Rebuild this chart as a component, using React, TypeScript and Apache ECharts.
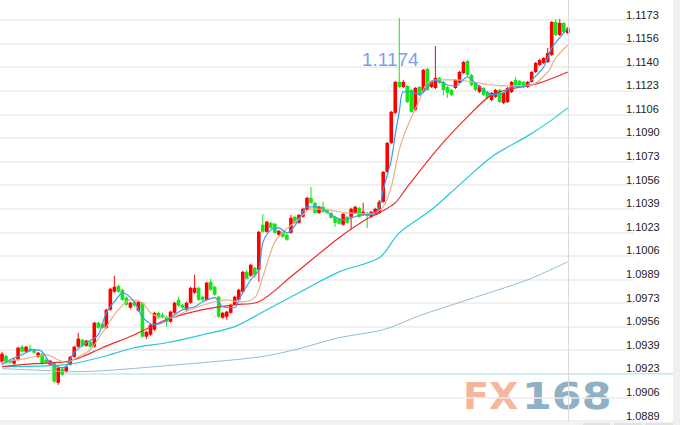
import React, { useEffect, useRef } from "react";
import * as echarts from "echarts";

// Candles: [open, close, low, high]
const candles: number[][] = [
  [1.09312, 1.09369, 1.09298, 1.09383],
  [1.09354, 1.09305, 1.09298, 1.09362],
  [1.09319, 1.09305, 1.09298, 1.09326],
  [1.09298, 1.09326, 1.09291, 1.0934],
  [1.09326, 1.09411, 1.09319, 1.09418],
  [1.09418, 1.09383, 1.09376, 1.09432],
  [1.09383, 1.09418, 1.09376, 1.09425],
  [1.09404, 1.0939, 1.09383, 1.09432],
  [1.09397, 1.09376, 1.09369, 1.09404],
  [1.09347, 1.09376, 1.0934, 1.09383],
  [1.09369, 1.09298, 1.09291, 1.09376],
  [1.09326, 1.09305, 1.09298, 1.0934],
  [1.09291, 1.09319, 1.09284, 1.09326],
  [1.09305, 1.09171, 1.09163, 1.09312],
  [1.09163, 1.0927, 1.09149, 1.09277],
  [1.09263, 1.0922, 1.09213, 1.0927],
  [1.09241, 1.09277, 1.09234, 1.09284],
  [1.09291, 1.09347, 1.09284, 1.09354],
  [1.09347, 1.09418, 1.0934, 1.09425],
  [1.09418, 1.09475, 1.09411, 1.09517],
  [1.09468, 1.09425, 1.09418, 1.09475],
  [1.09425, 1.09461, 1.09418, 1.09468],
  [1.09453, 1.09418, 1.09411, 1.09461],
  [1.09418, 1.09588, 1.09411, 1.09595],
  [1.09588, 1.09552, 1.09545, 1.09595],
  [1.09581, 1.09552, 1.09545, 1.09588],
  [1.09552, 1.0968, 1.09545, 1.09687],
  [1.0968, 1.09828, 1.09673, 1.09835],
  [1.09807, 1.09842, 1.098, 1.0992],
  [1.09849, 1.09807, 1.098, 1.09856],
  [1.09821, 1.0975, 1.09743, 1.09828],
  [1.09765, 1.09715, 1.09708, 1.09772],
  [1.09694, 1.09729, 1.09687, 1.09736],
  [1.09736, 1.09708, 1.09701, 1.09743],
  [1.09673, 1.09736, 1.09666, 1.09743],
  [1.09729, 1.09489, 1.09482, 1.09736],
  [1.09489, 1.09524, 1.09475, 1.09531],
  [1.09503, 1.09574, 1.09496, 1.09581],
  [1.09538, 1.09658, 1.09531, 1.09666],
  [1.09658, 1.09623, 1.09616, 1.09666],
  [1.09644, 1.0963, 1.09623, 1.09658],
  [1.0963, 1.09595, 1.0956, 1.09637],
  [1.09595, 1.09666, 1.09588, 1.09673],
  [1.09658, 1.09729, 1.09651, 1.09736],
  [1.0975, 1.09708, 1.09701, 1.09772],
  [1.09715, 1.09694, 1.09687, 1.09722],
  [1.0968, 1.09729, 1.09673, 1.09736],
  [1.09729, 1.09835, 1.09722, 1.09842],
  [1.098, 1.09835, 1.09793, 1.09927],
  [1.09835, 1.0975, 1.09743, 1.09842],
  [1.09772, 1.0975, 1.09743, 1.09779],
  [1.0975, 1.09871, 1.09743, 1.09878],
  [1.09878, 1.09821, 1.09814, 1.09899],
  [1.09842, 1.09786, 1.09779, 1.09849],
  [1.09772, 1.0963, 1.09623, 1.09779],
  [1.09623, 1.09658, 1.09616, 1.09666],
  [1.0963, 1.09666, 1.09609, 1.09673],
  [1.09658, 1.09715, 1.09651, 1.09722],
  [1.09715, 1.09772, 1.09708, 1.09779],
  [1.0975, 1.09821, 1.09743, 1.09828],
  [1.09807, 1.09948, 1.098, 1.09955],
  [1.09948, 1.09899, 1.09892, 1.09963],
  [1.0992, 1.09998, 1.09913, 1.10005],
  [1.09977, 1.09927, 1.09906, 1.09984],
  [1.09963, 1.10231, 1.09878, 1.10238],
  [1.10281, 1.10231, 1.10224, 1.10358],
  [1.10231, 1.10302, 1.10224, 1.10309],
  [1.10295, 1.10259, 1.10252, 1.10302],
  [1.10288, 1.10224, 1.10217, 1.10295],
  [1.1021, 1.10238, 1.10203, 1.10245],
  [1.10231, 1.10196, 1.10189, 1.10238],
  [1.1021, 1.10175, 1.10168, 1.10217],
  [1.10224, 1.1033, 1.10217, 1.10351],
  [1.10337, 1.10295, 1.10288, 1.10344],
  [1.10295, 1.10351, 1.10288, 1.10358],
  [1.10337, 1.10394, 1.1033, 1.10401],
  [1.10387, 1.10472, 1.1038, 1.10479],
  [1.10472, 1.10436, 1.10429, 1.10549],
  [1.10436, 1.10365, 1.10358, 1.10443],
  [1.10365, 1.10408, 1.10358, 1.10415],
  [1.10408, 1.10373, 1.10365, 1.10443],
  [1.10387, 1.10365, 1.10358, 1.10394],
  [1.10365, 1.1033, 1.10323, 1.10373],
  [1.10337, 1.10295, 1.10267, 1.10344],
  [1.10323, 1.10288, 1.10281, 1.1033],
  [1.10281, 1.10358, 1.10274, 1.10365],
  [1.10337, 1.10295, 1.10288, 1.10344],
  [1.10337, 1.10394, 1.10245, 1.10401],
  [1.10365, 1.10408, 1.10358, 1.10415],
  [1.10401, 1.10337, 1.1033, 1.10408],
  [1.10351, 1.10373, 1.10344, 1.10436],
  [1.10365, 1.10344, 1.10259, 1.10373],
  [1.10337, 1.10373, 1.1033, 1.1038],
  [1.10358, 1.10394, 1.10351, 1.10401],
  [1.10365, 1.10443, 1.10358, 1.10457],
  [1.10443, 1.10655, 1.10436, 1.10662],
  [1.10655, 1.1086, 1.10648, 1.10867],
  [1.1086, 1.1108, 1.10853, 1.11087],
  [1.11073, 1.11292, 1.11065, 1.11299],
  [1.11292, 1.11256, 1.11249, 1.11744],
  [1.11256, 1.11292, 1.11249, 1.11306],
  [1.11263, 1.1115, 1.11143, 1.1127],
  [1.11235, 1.1108, 1.11073, 1.11242],
  [1.11094, 1.11249, 1.11087, 1.11256],
  [1.11256, 1.112, 1.11193, 1.11263],
  [1.11221, 1.11377, 1.11214, 1.11384],
  [1.11384, 1.11235, 1.11228, 1.11391],
  [1.11256, 1.11292, 1.11249, 1.11299],
  [1.11249, 1.1132, 1.11242, 1.11546],
  [1.1132, 1.11285, 1.11278, 1.11327],
  [1.11292, 1.11235, 1.112, 1.11299],
  [1.11256, 1.11214, 1.11179, 1.11263],
  [1.11235, 1.112, 1.11193, 1.11242],
  [1.11249, 1.11306, 1.11242, 1.11313],
  [1.11285, 1.11362, 1.11278, 1.11369],
  [1.11355, 1.11433, 1.11348, 1.1144],
  [1.1144, 1.11341, 1.11334, 1.11447],
  [1.11341, 1.1127, 1.11263, 1.11348],
  [1.11285, 1.11235, 1.11228, 1.11292],
  [1.11221, 1.11263, 1.11214, 1.1127],
  [1.11249, 1.112, 1.11193, 1.11256],
  [1.11221, 1.11179, 1.11171, 1.11228],
  [1.11164, 1.11214, 1.11157, 1.11221],
  [1.11186, 1.11235, 1.11179, 1.11242],
  [1.11235, 1.1115, 1.11143, 1.11242],
  [1.11143, 1.11214, 1.11136, 1.11221],
  [1.1115, 1.11249, 1.11143, 1.11256],
  [1.11221, 1.11292, 1.11214, 1.11299],
  [1.11306, 1.1127, 1.11263, 1.11327],
  [1.11299, 1.1127, 1.11263, 1.11306],
  [1.11292, 1.11256, 1.11249, 1.11299],
  [1.11256, 1.11292, 1.11249, 1.11299],
  [1.11292, 1.11362, 1.11285, 1.11369],
  [1.11362, 1.11426, 1.11355, 1.11433],
  [1.11412, 1.11447, 1.11405, 1.11454],
  [1.11426, 1.11461, 1.11419, 1.11468],
  [1.11433, 1.11497, 1.11426, 1.11532],
  [1.11483, 1.11716, 1.11476, 1.11723],
  [1.11716, 1.11624, 1.11617, 1.11737],
  [1.11624, 1.11709, 1.11617, 1.11737],
  [1.11709, 1.11645, 1.11638, 1.11716],
  [1.11638, 1.11673, 1.11631, 1.11681],
];

// Moving averages: [candle index, value]
const maBlue: number[][] = [
  [0, 1.09291], [2, 1.09326], [5, 1.09362], [8, 1.09397], [10, 1.09383], [12, 1.09305],
  [15, 1.0927], [16, 1.09277], [18, 1.09376], [21, 1.09446], [24, 1.09503], [26, 1.09658],
  [29, 1.09772], [30, 1.098], [33, 1.09736], [35, 1.0963], [38, 1.09574], [40, 1.09588],
  [43, 1.09644], [45, 1.0968], [48, 1.09701], [50, 1.09736], [53, 1.09765], [55, 1.09701],
  [58, 1.09694], [59, 1.0975], [62, 1.09892], [64, 1.09963], [65, 1.10153], [67, 1.10245],
  [69, 1.10259], [71, 1.10224], [74, 1.10316], [76, 1.10408], [79, 1.10408], [82, 1.10351],
  [85, 1.10316], [87, 1.1033], [90, 1.10351], [92, 1.10351], [94, 1.10401], [95, 1.10528],
  [97, 1.1074], [98, 1.10917], [99, 1.1108], [100, 1.11221], [102, 1.11221], [104, 1.112],
  [106, 1.11256], [108, 1.11306], [111, 1.1127], [113, 1.11263], [116, 1.11327], [117, 1.11306],
  [120, 1.11235], [122, 1.112], [125, 1.11214], [127, 1.11256], [130, 1.11256], [132, 1.11306],
  [135, 1.11398], [137, 1.11532], [140, 1.11638], [141, 1.11673],
];
const maTan: number[][] = [
  [0, 1.09312], [4, 1.09326], [8, 1.09347], [11, 1.09362], [14, 1.09326], [16, 1.09305],
  [19, 1.09347], [22, 1.09397], [25, 1.09517], [29, 1.0968], [32, 1.0975], [35, 1.09729],
  [37, 1.09658], [40, 1.09623], [42, 1.09623], [45, 1.09658], [49, 1.09701], [53, 1.09736],
  [56, 1.0975], [59, 1.09736], [63, 1.09765], [65, 1.09913], [68, 1.1016], [71, 1.10252],
  [74, 1.10323], [77, 1.10394], [81, 1.10387], [86, 1.10365], [92, 1.10358], [95, 1.10408],
  [97, 1.10549], [99, 1.10811], [101, 1.10974], [104, 1.11164], [106, 1.11285], [109, 1.11306],
  [113, 1.11306], [117, 1.11292], [122, 1.1127], [128, 1.11263], [132, 1.1127], [136, 1.11362],
  [138, 1.11461], [141, 1.11553],
];
const maRed: number[][] = [
  [0, 1.09277], [8, 1.09298], [16, 1.09312], [20, 1.09347], [25, 1.09411], [33, 1.09503],
  [41, 1.09609], [50, 1.0968], [58, 1.09715], [64, 1.09736], [72, 1.09913], [84, 1.10189],
  [91, 1.10323], [94, 1.10365], [98, 1.10436], [101, 1.10549], [109, 1.10832], [116, 1.11044],
  [122, 1.112], [128, 1.11249], [134, 1.11285], [141, 1.11362],
];
const maCyan: number[][] = [
  [0, 1.09277], [16, 1.09291], [25, 1.09347], [33, 1.09411], [41, 1.09446], [50, 1.09503],
  [58, 1.0956], [66, 1.0968], [74, 1.098], [84, 1.09948], [94, 1.10047], [99, 1.10224],
  [107, 1.10387], [114, 1.10563], [122, 1.10761], [131, 1.1091], [136, 1.11002], [141, 1.11108],
];
const maSlate: number[][] = [
  [0, 1.09263], [12, 1.09248], [16, 1.09241], [25, 1.09248], [41, 1.09284], [58, 1.09326],
  [66, 1.09354], [74, 1.09404], [84, 1.09482], [95, 1.09538], [104, 1.09637], [116, 1.0975],
  [131, 1.09892], [141, 1.10019],
];

const yTickLabels = [
  "1.0889", "1.0906", "1.0923", "1.0939", "1.0956", "1.0973", "1.0989", "1.1006", "1.1023",
  "1.1039", "1.1056", "1.1073", "1.1090", "1.1106", "1.1123", "1.1140", "1.1156", "1.1173",
];
const AXIS_BASE = 1.088925;
const AXIS_STEP = 0.001669;
const AXIS_TOP = 1.118714;
const TOTAL_SLOTS = 158;
const HIGHLIGHT_TICK = 2; // 1.0923 line drawn in cyan

const UP = "#ff0000";
const DOWN = "#14e614";

export default function App() {
  const ref = useRef<HTMLDivElement>(null);
  useEffect(() => {
    if (!ref.current) return;
    const chart = echarts.init(ref.current, undefined, { renderer: "svg" });
    const t = (p: number) => (p - AXIS_BASE) / AXIS_STEP;
    const n = candles.length;
    let maxIdx = 0;
    candles.forEach((c, i) => {
      if (c[3] > candles[maxIdx][3]) maxIdx = i;
    });
    const cats = Array.from({ length: TOTAL_SLOTS }, (_, i) => (i < n ? String(i) : "s" + i));
    const gridColors = yTickLabels.map((_, i) => (i === HIGHLIGHT_TICK ? "#bfeaea" : "#ebebeb"));
    gridColors.push("rgba(0,0,0,0)");
    const font = "Liberation Sans, Arial, sans-serif";
    const line = (data: number[][], color: string, width: number, smooth: number) => ({
      type: "line",
      xAxisIndex: 1,
      yAxisIndex: 0,
      data: data.map(([k, p]) => [k, t(p)]),
      showSymbol: false,
      symbol: "none",
      smooth,
      silent: true,
      z: 4,
      lineStyle: { color, width },
    });
    const gridH = 421;
    const highlightY = gridH - (HIGHLIGHT_TICK / t(AXIS_TOP)) * gridH;

    const renderCandle = (_params: any, api: any) => {
      const i = api.value(0);
      const o = api.value(1);
      const c = api.value(2);
      const l = api.value(3);
      const h = api.value(4);
      const pO = api.coord([i, o]);
      const pC = api.coord([i, c]);
      const pL = api.coord([i, l]);
      const pH = api.coord([i, h]);
      const cx = pO[0];
      const color = c >= o ? UP : DOWN;
      const bw = 3.6;
      const top = Math.min(pO[1], pC[1]);
      const bh = Math.max(Math.abs(pO[1] - pC[1]), 1);
      return {
        type: "group",
        children: [
          {
            type: "rect",
            shape: { x: cx - 0.5, y: pH[1], width: 1, height: Math.max(pL[1] - pH[1], 1) },
            style: { fill: color, stroke: null },
          },
          {
            type: "rect",
            shape: { x: cx - bw / 2, y: top, width: bw, height: bh },
            style: { fill: color, stroke: null },
          },
        ],
      };
    };

    chart.setOption({
      animation: false,
      backgroundColor: "#ffffff",
      grid: { left: -1, right: 46, top: 0, bottom: 4 },
      xAxis: [
        { type: "category", data: cats, show: false, boundaryGap: true },
        { type: "value", min: -0.5, max: TOTAL_SLOTS - 0.5, show: false },
      ],
      yAxis: {
        type: "value",
        position: "right",
        min: 0,
        max: t(AXIS_TOP),
        interval: 1,
        axisLine: { show: false },
        axisTick: { show: false },
        splitLine: { show: true, lineStyle: { color: gridColors, width: 1.5 } },
        axisLabel: {
          show: true,
          margin: -8,
          align: "left",
          verticalAlign: "bottom",
          color: "#222",
          fontSize: 11,
          fontFamily: font,
          showMaxLabel: false,
          formatter: (v: number) => yTickLabels[Math.round(v)] ?? "",
        },
      },
      graphic: [
        {
          type: "text",
          x: 463,
          y: 396,
          z: -1,
          silent: true,
          style: {
            text: "FX",
            fill: "#f5b69b",
            font: "bold 38px 'DejaVu Sans'",
            textVerticalAlign: "middle",
            verticalAlign: "middle",
          },
        },
        {
          type: "text",
          x: 522,
          y: 396,
          scaleX: 1.13,
          z: -1,
          silent: true,
          style: {
            text: "168",
            fill: "#8fb0c5",
            font: "bold 38px 'DejaVu Sans'",
            textVerticalAlign: "middle",
            verticalAlign: "middle",
          },
        },
        {
          type: "line",
          silent: true,
          shape: { x1: 634, y1: highlightY, x2: 673, y2: highlightY },
          style: { stroke: "#bfeaea", lineWidth: 1.5 },
        },
        {
          type: "rect",
          silent: true,
          shape: { x: 673, y: 0, width: 7, height: 425 },
          style: { fill: "#efefef" },
        },
        {
          type: "rect",
          silent: true,
          shape: { x: 0, y: 421.5, width: 673, height: 4 },
          style: { fill: "#f3f3f3" },
        },
        {
          type: "rect",
          silent: true,
          shape: { x: 583, y: 423, width: 27, height: 3 },
          style: { fill: "#e2e2e2" },
        },
        {
          type: "rect",
          silent: true,
          shape: { x: 614, y: 423, width: 28, height: 3 },
          style: { fill: "#e2e2e2" },
        },
        {
          type: "rect",
          silent: true,
          shape: { x: 645, y: 423, width: 28, height: 3 },
          style: { fill: "#e2e2e2" },
        },
      ],
      series: [
        {
          type: "custom",
          xAxisIndex: 0,
          yAxisIndex: 0,
          renderItem: renderCandle,
          data: candles.map((c, i) => [i, ...c.map(t)]),
          encode: { x: 0, y: [1, 2, 3, 4] },
          z: 3,
          silent: true,
          clip: true,
          markLine: {
            silent: true,
            symbol: ["none", "none"],
            label: { show: false },
            lineStyle: { color: "#dadada", width: 1, type: "solid" },
            data: [{ xAxis: n - 1 }],
          },
          markPoint: {
            silent: true,
            symbol: "circle",
            symbolSize: 1,
            itemStyle: { color: "rgba(0,0,0,0)" },
            label: {
              show: true,
              position: "inside",
              offset: [-9, 41],
              color: "#7c9ef0",
              fontSize: 19,
              fontFamily: font,
              formatter: () => candles[maxIdx][3].toFixed(4),
            },
            data: [{ coord: [maxIdx, t(candles[maxIdx][3])] }],
          },
        },
        line(maSlate, "#92bcd6", 1, 0.3),
        line(maCyan, "#25c9d9", 1.2, 0.3),
        line(maRed, "#f02a2a", 1.2, 0.3),
        line(maTan, "#e9b089", 1.2, 0.3),
        line(maBlue, "#3a9af2", 1.2, 0.3),
      ],
    });
    return () => chart.dispose();
  }, []);
  return (
    <div
      ref={ref}
      style={{ position: "fixed", left: 0, top: 0, width: 680, height: 425, background: "#fff" }}
    />
  );
}
